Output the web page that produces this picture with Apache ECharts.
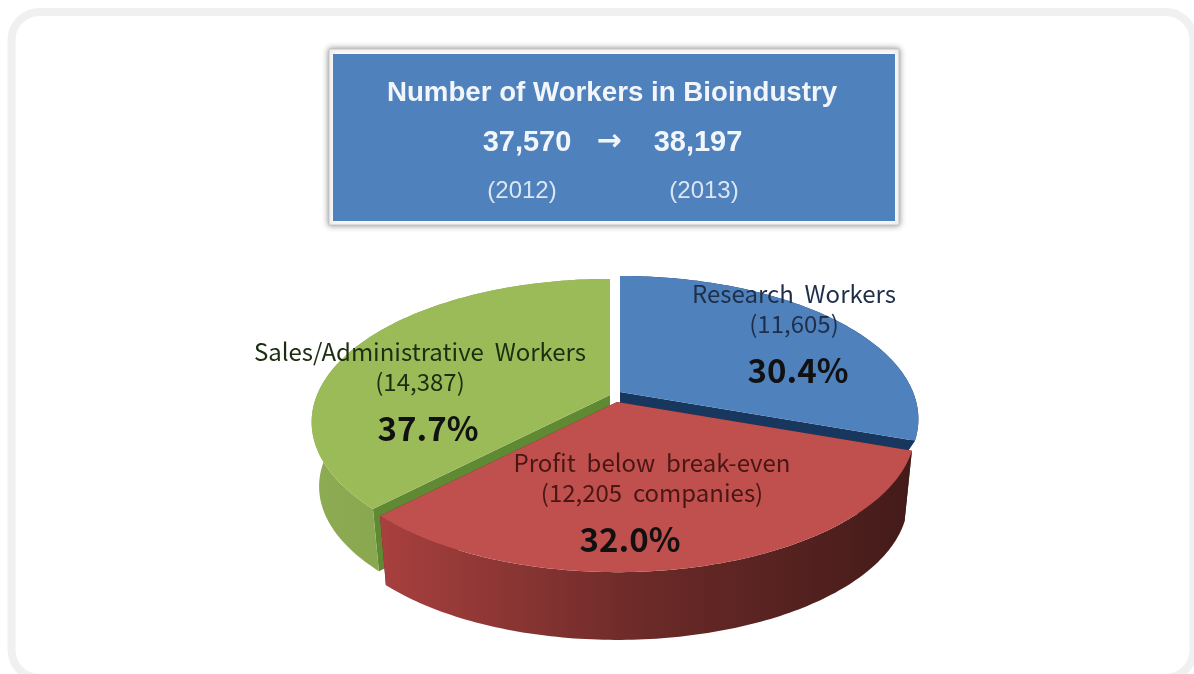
<!DOCTYPE html>
<html><head><meta charset="utf-8">
<style>html,body{margin:0;padding:0;background:#fff}#c{width:1194px;height:674px}</style>
<script src="https://cdn.jsdelivr.net/npm/echarts@6/dist/echarts.min.js"></script>
</head><body><div id="c"></div>
<script>
const categories = ['Research  Workers', 'Profit  below  break-even', 'Sales/Administrative  Workers'];
const workers = [11605, 12205, 14387];
const workerLabels = ['(11,605)', '(12,205  companies)', '(14,387)'];
const shares = ['30.4%', '32.0%', '37.7%'];
const headline = 'Number of Workers in Bioindustry';
const totals = ['37,570', '38,197'];
const years = ['(2012)', '(2013)'];

// layout and styling
const F = '"Noto Sans CJK KR","Noto Sans",sans-serif';
const A = '"Liberation Sans",Arial,sans-serif';
const RX = 293, RY = 138, K = 0.189, BASE = 0.975;
const depthOf = [12, 72, 65];
const apex = [[620, 392], [617, 402], [610, 395]];
const paint = [1, 3, 2];
const labelAt = [[794, 294], [652, 463], [420, 352]];
const shareShift = [4, -22, 8];
const topFill = ['#4f81bd', '#c0504d', '#9bbb59'];
const cutFill = ['#17375e', '#632523', '#5f8a33'];
const nameColor = ['#1f2f4a', '#4a1614', '#1d2d12'];
const wallStops = [
  ['#17375e', '#17375e'],
  ['#a8403e', '#6b2a28', '#431b19'],
  ['#8dab52', '#7c9b48']
];

function rim(a, o, depth) {
  const u = Math.sin(a), v = -Math.cos(a), d = 1 - K * v;
  const s = depth ? BASE : 1;
  return [o[0] + RX * u / d * s, o[1] + RY * v / d * s + depth];
}
function arc(a0, a1, o, depth) {
  const n = 120, pts = [];
  for (let i = 0; i <= n; i++) pts.push(rim(a0 + (a1 - a0) * i / n, o, depth));
  return pts;
}
const total = workers.reduce((s, x) => s + x, 0);

function renderSlice(params, api) {
  const i = params.dataIndex;
  let before = 0;
  for (let j = 0; j < i; j++) before += workers[j];
  const a0 = before / total * 2 * Math.PI;
  const a1 = (before + api.value(0)) / total * 2 * Math.PI;
  const o = apex[i], z = paint[i] * 10, dp = depthOf[i];
  const oBase = [o[0], o[1] + dp];
  const stops = wallStops[i];
  const wallFill = new echarts.graphic.LinearGradient(0, 0, 1, 0,
    stops.map((c, n) => ({ offset: n / (stops.length - 1), color: c })));
  const poly = (points, fill, zz) => ({ type: 'polygon', z2: zz, shape: { points }, style: { fill } });
  const text = (t, x, y, size, weight, fill) => ({
    type: 'text', z2: 100, x, y,
    style: { text: t, fill, font: weight + ' ' + size + 'px ' + F, align: 'center', verticalAlign: 'middle' }
  });
  const L = labelAt[i];
  return {
    type: 'group',
    children: [
      poly([o, oBase, rim(a0, o, dp), rim(a0, o, 0)], cutFill[i], z),
      poly([o, oBase, rim(a1, o, dp), rim(a1, o, 0)], cutFill[i], z),
      poly(arc(a0, a1, o, 0).concat(arc(a0, a1, o, dp).reverse()), wallFill, z + 1),
      poly([o].concat(arc(a0, a1, o, 0)), topFill[i], z + 2),
      text(categories[i], L[0], L[1], 24, 'normal', nameColor[i]),
      text(workerLabels[i], L[0], L[1] + 30, 24, 'normal', nameColor[i]),
      text(shares[i], L[0] + shareShift[i], L[1] + 76, 33, 'bold', '#111')
    ]
  };
}

const chart = echarts.init(document.getElementById('c'), null, { renderer: 'canvas' });
const boxText = (t, cx, cy, size, weight, color, family) => ({
  type: 'text', x: cx, y: cy, z: 5,
  style: { text: t, fill: color, font: weight + ' ' + size + 'px ' + (family || A), align: 'center', verticalAlign: 'middle' }
});
chart.setOption({
  animation: false,
  backgroundColor: '#ffffff',
  title: {
    text: headline, left: 607, top: 74, textAlign: 'center', z: 6,
    textStyle: { fontFamily: A, fontSize: 27.7, fontWeight: 'bold', color: '#f2f6fb' }
  },
  graphic: [
    { type: 'rect', z: 0, shape: { x: 11.5, y: 12, width: 1182, height: 666, r: 28 },
      style: { fill: '#fff', stroke: '#f0f0f0', lineWidth: 8 } },
    { type: 'rect', z: 1, shape: { x: 329, y: 49, width: 570, height: 176 },
      style: { fill: '#ffffff', stroke: '#c4c4c4', lineWidth: 1, shadowBlur: 6, shadowColor: 'rgba(0,0,0,0.45)' } },
    { type: 'rect', z: 2, shape: { x: 333, y: 54, width: 562, height: 167 }, style: { fill: '#4f81bd' } },
    boxText(totals[0], 527, 143, 29, 'bold', '#f2f6fb'),
    boxText('→', 609, 142, 30, 'bold', '#f2f6fb', '"DejaVu Sans"'),
    boxText(totals[1], 698, 143, 29, 'bold', '#f2f6fb'),
    boxText(years[0], 522, 191, 24, 'normal', '#dce6f2'),
    boxText(years[1], 704, 191, 24, 'normal', '#dce6f2')
  ],
  series: [{
    type: 'custom',
    coordinateSystem: 'none',
    renderItem: renderSlice,
    data: workers.map((v, i) => ({ name: categories[i], value: [v] })),
    silent: true,
    z: 3
  }]
});
</script></body></html>
